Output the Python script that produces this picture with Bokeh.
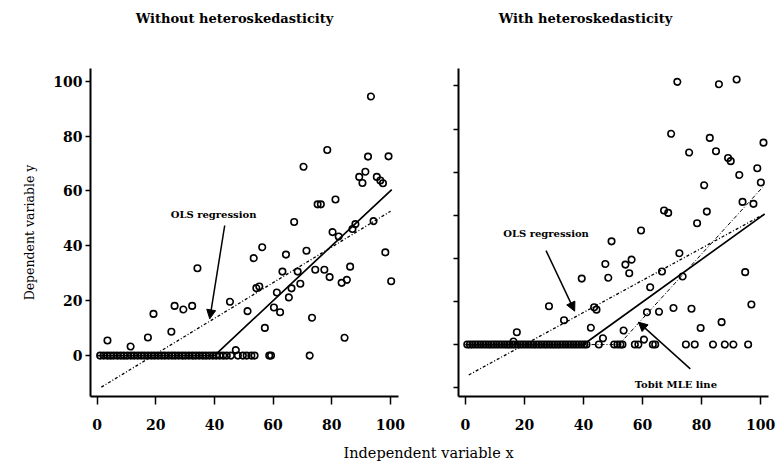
from bokeh.plotting import figure
from bokeh.layouts import row, column
from bokeh.models import Range1d, FixedTicker, Label, Arrow, NormalHead
from bokeh.embed import file_html
from bokeh.resources import INLINE

FONT = "DejaVu Serif"

# ---------------- data ----------------
X_TICKS = [0, 20, 40, 60, 80, 100]
LEFT_Y_TICKS = [0, 20, 40, 60, 80, 100]
RIGHT_Y_TICKS = [-20, 0, 20, 40, 60, 80, 100, 120]

left_title = "Without heteroskedasticity"
right_title = "With heteroskedasticity"
x_label = "Independent variable x"
y_label = "Dependent variable y"

# left panel: positive observations
left_x = [3.5, 11.4, 17.3, 19.2, 25.3, 26.4, 29.4, 32.4, 34.2, 45.3, 47.3, 51.3, 53.4, 56.3,
          64.4, 71.4, 98.3, 54.3, 55.3, 57.2, 60.3, 61.3, 62.4, 63.2, 65.4, 66.3, 67.2, 68.4,
          69.3, 70.4, 73.3, 74.4, 75.2, 76.3, 77.5, 78.5, 79.3, 80.3, 81.3, 82.4, 83.4, 84.4,
          85.2, 86.3, 87.1, 88.1, 89.4, 90.5, 91.5, 92.4, 93.4, 94.3, 95.4, 96.6, 97.5, 99.4, 100.3]
left_y = [5.5, 3.3, 6.6, 15.2, 8.7, 18.1, 16.8, 18.1, 31.8, 19.6, 2.0, 16.2, 35.5, 39.5,
          36.8, 38.2, 37.6, 24.6, 25.2, 10.1, 17.5, 23.0, 15.8, 30.6, 21.2, 24.5, 48.7, 30.6,
          26.2, 68.8, 13.8, 31.3, 55.1, 55.1, 31.3, 74.9, 28.6, 45.0, 56.9, 43.4, 26.5, 6.5,
          27.6, 32.4, 46.1, 47.9, 65.1, 62.9, 67.0, 72.5, 94.4, 49.0, 65.1, 63.8, 62.8, 72.6, 27.1]
# left panel: censored observations (y = 0)
left_zero_x = [1.0, 2.2, 3.4, 4.5, 5.6, 6.8, 8.0, 9.1, 10.3, 11.5, 12.6, 13.8, 15.0, 16.1, 17.3,
               18.5, 19.6, 20.8, 22.0, 23.1, 24.3, 25.5, 26.6, 27.8, 29.0, 30.1, 31.3, 32.5,
               33.6, 34.8, 36.0, 37.1, 38.3, 39.5, 40.6, 41.8, 43.0, 44.2, 45.6, 48.0, 49.7,
               51.0, 52.6, 53.7, 58.7, 59.3, 72.5]
left_zero_y = [0.0] * len(left_zero_x)

# right panel: positive observations
right_x = [71.8, 85.9, 91.9, 69.7, 82.8, 101.0, 75.8, 84.9, 89.0, 89.9, 98.9, 92.8, 100.1, 80.9,
           67.3, 68.7, 81.8, 59.5, 78.5, 93.9, 97.6, 49.5, 72.5, 56.3, 47.4, 54.2, 48.4, 55.5,
           66.6, 73.6, 94.8, 62.6, 43.6, 44.4, 61.5, 65.6, 70.5, 76.6, 96.9, 86.8, 79.7, 53.6,
           46.6, 60.5, 42.5, 17.4, 16.3, 28.3, 33.4, 39.4]
right_y = [121.9, 120.8, 123.0, 97.8, 95.9, 93.7, 89.1, 89.7, 86.6, 85.1, 81.8, 78.7, 75.2, 73.9,
           62.2, 61.1, 61.7, 52.9, 56.3, 66.2, 65.3, 47.9, 42.4, 39.4, 37.4, 37.1, 31.0, 33.1,
           33.9, 31.6, 33.6, 26.6, 17.3, 16.2, 15.0, 15.2, 17.0, 16.6, 18.6, 10.4, 7.7, 6.5,
           2.9, 2.3, 7.8, 5.7, 1.4, 17.8, 11.3, 30.6]
right_zero_x = [0.6, 1.5, 2.4, 3.3, 4.2, 5.1, 6.0, 6.9, 7.8, 8.7, 9.6, 10.5, 11.4, 12.3, 13.2,
                14.1, 15.0, 15.9, 16.8, 17.7, 18.6, 19.5, 20.4, 21.3, 22.2, 23.1, 24.0, 24.9,
                25.8, 26.7, 27.6, 28.5, 29.4, 30.3, 31.2, 32.1, 33.0, 33.9, 34.8, 35.7, 36.6,
                37.5, 38.4, 39.3, 40.2, 41.0, 45.2, 50.4, 51.5, 52.5, 53.2, 57.4, 58.6, 63.5,
                64.3, 74.7, 77.7, 83.9, 87.9, 90.8, 95.8]
right_zero_y = [0.0] * len(right_zero_x)

# fitted lines
left_ols_x = [1.4, 100.1]
left_ols_y = [-11.5, 52.6]
left_tobit_x = [0, 40, 100.5]
left_tobit_y = [0, 0, 60.5]

right_ols_x = [1.1, 100.9]
right_ols_y = [-14.1, 60.3]
right_true_x = [0, 40, 101.4]
right_true_y = [0, 0, 60.6]
right_mle_x = [0, 52, 100.7]
right_mle_y = [0, 0, 73.0]

# ---------------- layout ----------------
TOP_H = 36
BOT_H = 24
ROW_H = 464 - TOP_H - BOT_H


def strip(height):
    s = figure(width=776, height=height, x_range=Range1d(0, 1), y_range=Range1d(0, 1),
               output_backend="svg", toolbar_location=None,
               min_border_left=0, min_border_right=0, min_border_top=0, min_border_bottom=0)
    s.axis.visible = False
    s.grid.visible = False
    s.outline_line_color = None
    return s


def make_fig(width, xr, yr, mbl, mbr, yticks, show_ylabels):
    p = figure(width=width, height=ROW_H, x_range=Range1d(*xr), y_range=Range1d(*yr),
               output_backend="svg", toolbar_location=None,
               min_border_left=mbl, min_border_right=mbr,
               min_border_top=68 - TOP_H, min_border_bottom=44)
    p.grid.visible = False
    p.outline_line_color = None
    p.background_fill_color = "white"
    p.border_fill_color = "white"

    xa = p.xaxis[0]
    xa.ticker = FixedTicker(ticks=X_TICKS)
    xa.axis_line_width = 2
    xa.axis_line_color = "black"
    xa.major_tick_in = 0
    xa.major_tick_out = 8
    xa.major_tick_line_width = 1.5
    xa.minor_tick_line_color = None
    xa.major_label_standoff = 14
    xa.major_label_text_font = FONT
    xa.major_label_text_font_style = "bold"
    xa.major_label_text_font_size = "14px"
    xa.major_label_text_color = "black"

    ya = p.yaxis[0]
    ya.ticker = FixedTicker(ticks=yticks)
    ya.axis_line_width = 2
    ya.axis_line_color = "black"
    ya.major_tick_in = 0
    ya.major_tick_out = 5
    ya.major_tick_line_width = 1.5
    ya.minor_tick_line_color = None
    ya.major_label_standoff = 3
    ya.major_label_text_font = FONT
    ya.major_label_text_font_style = "bold"
    ya.major_label_text_font_size = "14px"
    ya.major_label_text_color = "black"
    if not show_ylabels:
        ya.major_label_overrides = {t: "" for t in yticks}
    return p


def add_text(p, x, y, text):
    p.add_layout(Label(x=x, y=y, text=text, text_font=FONT, text_font_style="bold",
                       text_font_size="10px", text_align="center", text_baseline="middle",
                       text_color="black"))


def add_arrow(p, xs, ys, xe, ye):
    p.add_layout(Arrow(end=NormalHead(size=9, fill_color="black", line_color="black"),
                       x_start=xs, y_start=ys, x_end=xe, y_end=ye,
                       line_width=1.5, line_color="black"))


# titles strip
pt = strip(TOP_H)
pt.add_layout(Label(x=234, y=TOP_H - 18, x_units="screen", y_units="screen", text=left_title,
                    text_font=FONT, text_font_style="bold", text_font_size="13px",
                    text_align="center", text_baseline="middle", text_color="black"))
pt.add_layout(Label(x=585, y=TOP_H - 18, x_units="screen", y_units="screen", text=right_title,
                    text_font=FONT, text_font_style="bold", text_font_size="13px",
                    text_align="center", text_baseline="middle", text_color="black"))

# left panel (frame: x 90..398, page y 68..396)
pl = make_fig(430, (-2.29, 102.8), (-14.9, 104.6), 90, 32, LEFT_Y_TICKS, True)
pl.yaxis[0].axis_label = y_label
pl.yaxis[0].axis_label_text_font = FONT
pl.yaxis[0].axis_label_text_font_style = "normal"
pl.yaxis[0].axis_label_text_font_size = "12.5px"
pl.yaxis[0].axis_label_text_color = "black"
pl.yaxis[0].axis_label_standoff = 13
pl.line(left_ols_x, left_ols_y, line_color="black", line_width=1.3, line_dash="3 2 1 2")
pl.line(left_tobit_x, left_tobit_y, line_color="black", line_width=1.7)
pl.scatter(left_zero_x, left_zero_y, marker="circle", size=6.5, line_color="black",
           line_width=1.6, fill_color=None)
pl.scatter(left_x, left_y, marker="circle", size=6.5, line_color="black",
           line_width=1.6, fill_color=None)
add_text(pl, 39.7, 51.4, "OLS regression")
add_arrow(pl, 43.5, 47.4, 38.4, 13.4)

# right panel (frame: x 458..768, page y 68..396)
pr = make_fig(346, (-2.37, 102.7), (-24.1, 128.1), 28, 8, RIGHT_Y_TICKS, False)
pr.line(right_ols_x, right_ols_y, line_color="black", line_width=1.3, line_dash="3 2 1 2")
pr.line(right_true_x, right_true_y, line_color="black", line_width=1.7)
pr.line(right_mle_x, right_mle_y, line_color="black", line_width=1.0, line_dash="4 2 1 2")
pr.scatter(right_zero_x, right_zero_y, marker="circle", size=6.5, line_color="black",
           line_width=1.6, fill_color=None)
pr.scatter(right_x, right_y, marker="circle", size=6.5, line_color="black",
           line_width=1.6, fill_color=None)
add_text(pr, 27.3, 51.5, "OLS regression")
add_arrow(pr, 27.3, 43.6, 37.0, 15.5)
add_text(pr, 71.3, -18.6, "Tobit MLE line")
add_arrow(pr, 76.2, -11.3, 58.6, 10.4)

# shared x-axis label strip
pb = strip(BOT_H)
pb.add_layout(Label(x=428, y=12, x_units="screen", y_units="screen", text=x_label,
                    text_font=FONT, text_font_size="14.5px", text_align="center",
                    text_baseline="middle", text_color="black"))

layout = column(pt, row(pl, pr), pb)
open("out.html", "w").write(file_html(layout, INLINE))
